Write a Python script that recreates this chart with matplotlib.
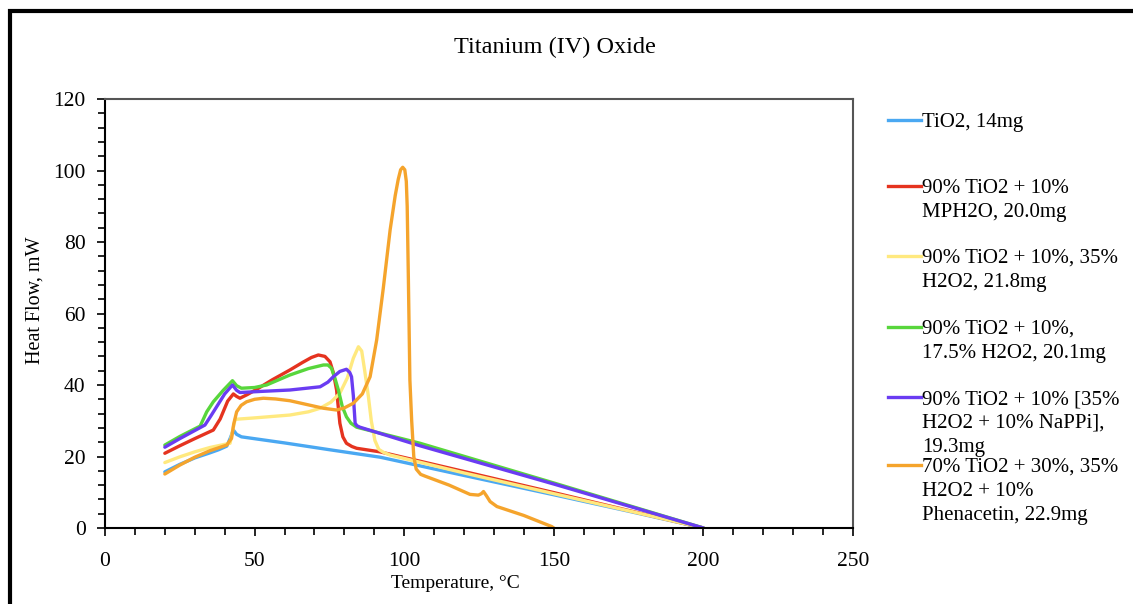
import matplotlib
matplotlib.use("Agg")
import matplotlib.pyplot as plt
from matplotlib.lines import Line2D
from matplotlib.patches import Rectangle

plt.rcParams["font.family"] = ["Liberation Serif", "DejaVu Serif"]

# Heat flow curves (temperature in C, heat flow in mW)
tio2_t = [20, 25, 30, 35, 38, 40.7, 41.8, 42.9, 44, 45.6, 60, 75, 92, 120, 150, 175, 200]
tio2_h = [15.7, 17.8, 19.6, 21.0, 21.9, 22.9, 25.0, 27.4, 26.2, 25.5, 23.8, 21.9, 19.8,
          14.7, 9.3, 4.7, 0]

mph2o_t = [20, 25, 30, 36.2, 38.5, 41, 42.9, 44, 45.1, 47.5, 50.7, 56, 61.8, 66, 69, 71.3,
           73.5, 75.2, 76.3, 77.4, 78.5, 79.5, 80.7, 82.5, 84.1, 91.9, 120, 150, 175, 200]
mph2o_h = [20.9, 23.0, 25.0, 27.4, 30.5, 35.5, 37.5, 36.8, 36.3, 37.3, 38.8, 41.5, 44.2,
           46.3, 47.7, 48.4, 48.0, 46.5, 43.5, 38.6, 29.3, 25.5, 23.7, 22.8, 22.3, 21.3,
           15.8, 9.9, 4.9, 0]

h2o2_t = [20, 25, 30, 35, 40, 41.8, 42.7, 43.5, 50, 61.8, 68, 71.9, 75.5, 78.5, 81, 83,
          84.7, 85.8, 86.8, 88, 89, 90.2, 91.5, 93, 95.3, 120, 150, 175, 200]
h2o2_h = [18.3, 19.9, 21.3, 22.5, 23.4, 23.7, 27.5, 30.4, 30.8, 31.6, 32.5, 33.5, 35.2,
          37.7, 42.0, 47.5, 50.7, 49.5, 44.0, 37.0, 30.0, 24.5, 22.0, 21.2, 20.4, 15.4,
          9.6, 4.8, 0]

h2o2_175_t = [20, 25, 31.8, 34, 36.2, 39.5, 42.6, 44, 45.6, 50, 54, 61.8, 68, 73, 74.5,
              75.7, 76.8, 78, 79.3, 80.7, 82.2, 84.1, 105.3, 150, 200]
h2o2_175_h = [23.2, 25.6, 28.5, 32.5, 35.3, 38.5, 41.2, 39.8, 39.1, 39.3, 40.0, 42.8, 44.6,
              45.6, 45.6, 44.7, 42.0, 38.6, 34.0, 31.1, 29.3, 28.2, 23.7, 12.6, 0]

nappi_t = [20, 25, 33.4, 35.5, 37.3, 40, 42.6, 44, 45.1, 52, 61.8, 71.9, 74.5, 76.3, 78.5,
           80.7, 81.8, 82.4, 83, 83.6, 84.2, 85.2, 105.3, 150, 200]
nappi_h = [22.6, 25.0, 28.8, 31.5, 33.9, 37.5, 40.0, 38.5, 37.9, 38.2, 38.6, 39.5, 40.8,
           42.3, 43.8, 44.4, 43.5, 42.3, 37.0, 29.3, 28.6, 28.2, 23.0, 12.3, 0]

phen_t = [20, 25, 30, 35, 40.7, 42.3, 43, 44, 45.5, 47.3, 50, 52.9, 57, 61.8, 73, 77.4, 80,
          83, 86, 88.6, 90.8, 93, 95.3, 97, 98, 98.8, 99.5, 100.2, 100.7, 101, 101.4, 101.9,
          102.5, 103.2, 104, 105.5, 107, 115, 122, 124.8, 125.8, 126.5, 127.5, 128.7, 131,
          140, 149.3, 150]
phen_h = [15.1, 17.6, 19.8, 21.6, 23.2, 25.1, 29.0, 32.5, 34.3, 35.3, 36.0, 36.3, 36.1,
          35.6, 33.5, 33.0, 33.6, 34.9, 37.5, 42.3, 52.6, 67.0, 83.4, 93.0, 97.5, 100.2,
          100.9, 100.2, 97.0, 90.0, 69.4, 41.4, 30.0, 20.0, 16.5, 15.0, 14.5, 12.0, 9.4,
          9.2, 9.6, 10.2, 9.0, 7.4, 6.0, 3.5, 0.4, 0]

series = [
    (tio2_t, tio2_h, "TiO2, 14mg", "#4aa8f2"),
    (mph2o_t, mph2o_h, "90% TiO2 + 10%\nMPH2O, 20.0mg", "#e5331f"),
    (h2o2_t, h2o2_h, "90% TiO2 + 10%, 35%\nH2O2, 21.8mg", "#ffe97f"),
    (h2o2_175_t, h2o2_175_h, "90% TiO2 + 10%,\n17.5% H2O2, 20.1mg", "#58d63c"),
    (nappi_t, nappi_h, "90% TiO2 + 10% [35%\nH2O2 + 10% NaPPi],\n19.3mg", "#6a3cf2"),
    (phen_t, phen_h, "70% TiO2 + 30%, 35%\nH2O2 + 10%\nPhenacetin, 22.9mg", "#f5a42c"),
]
legend_y = [120, 186, 256, 327, 397, 465]  # pixel rows of the legend lines

W, H = 1133, 604
fig = plt.figure(figsize=(W / 100, H / 100), dpi=100)
ax = fig.add_axes([105 / W, 1 - 528 / H, 748 / W, 429 / H])

for t, h, label, color in series:
    ax.plot(t, h, color=color, lw=2.4, solid_capstyle="round", solid_joinstyle="round")

ax.set_xlim(0, 250)
ax.set_ylim(0, 120)
ax.set_xticks(range(0, 251, 50))
ax.set_xticks(range(0, 251, 10), minor=True)
ax.set_yticks(range(0, 121, 20))
ax.set_yticks(range(0, 121, 4), minor=True)
ax.tick_params(which="both", direction="out", color="black", width=1.2)
ax.tick_params(which="major", length=6, labelsize=15.5)
ax.tick_params(which="minor", length=5)
ax.tick_params(axis="x", pad=11)
ax.tick_params(axis="y", pad=8)
for side in ["left", "bottom"]:
    ax.spines[side].set_linewidth(1.5)
    ax.spines[side].set_color("black")
for side in ["top", "right"]:
    ax.spines[side].set_linewidth(1.5)
    ax.spines[side].set_color("#555555")

fig.text(455 / W, 1 - 584 / H, "Temperature, °C", ha="center", va="center", fontsize=14)
fig.text(35 / W, 1 - 300 / H, "Heat Flow, mW", ha="center", va="center", fontsize=14.5,
         rotation=90)
fig.text(555 / W, 1 - 47 / H, "Titanium (IV) Oxide", ha="center", va="center", fontsize=17.5)

# legend drawn by hand to keep the Excel-like spacing
for (t, h, label, color), y in zip(series, legend_y):
    fy = 1 - y / H
    fig.add_artist(Line2D([888 / W, 921 / W], [fy, fy], color=color, lw=2.4,
                          transform=fig.transFigure))
    fig.text(922 / W, fy + 7 / H, label, ha="left", va="top", fontsize=15,
             linespacing=1.35)

# outer frame of the chart object
fig.add_artist(Rectangle((10 / W, -0.2), 1.2, 1.2 - 11 / H, fill=False, lw=3,
                         edgecolor="black", transform=fig.transFigure))

fig.savefig("out.png", dpi=100)
